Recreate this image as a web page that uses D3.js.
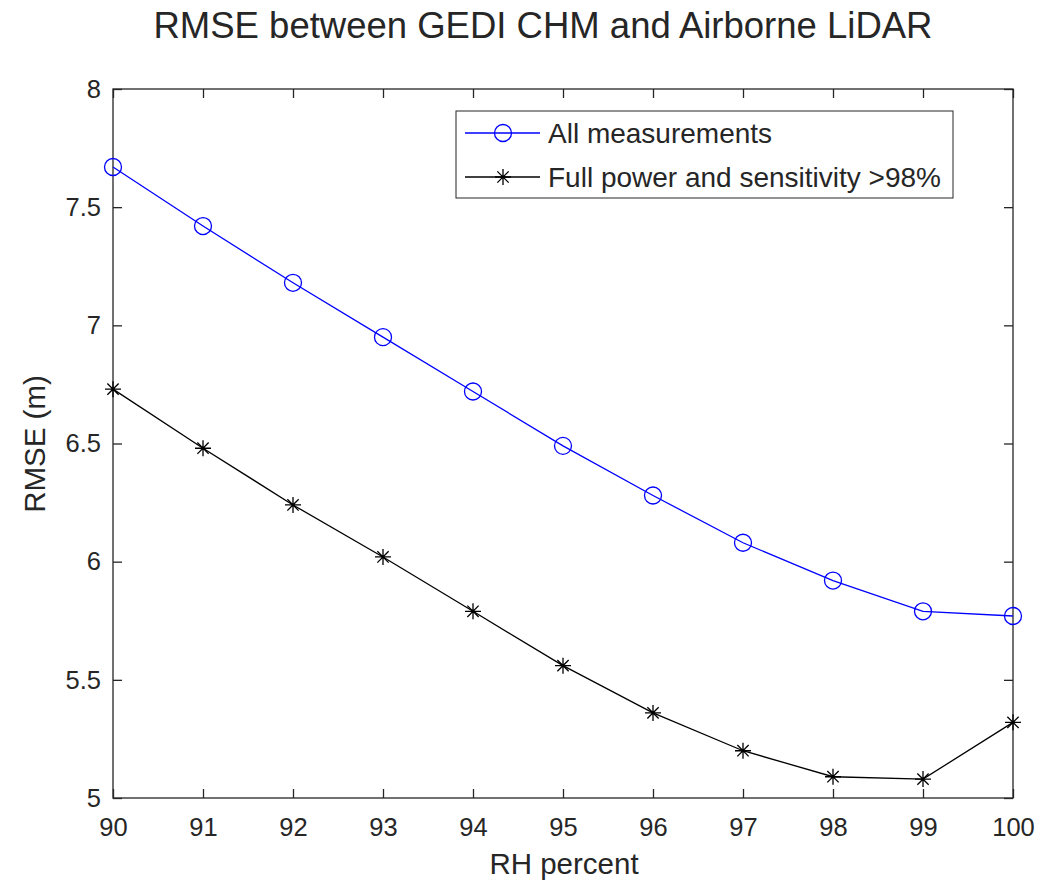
<!DOCTYPE html>
<html>
<head>
<meta charset="utf-8">
<script src="https://cdn.jsdelivr.net/npm/d3@7"></script>
<style>
  body { margin: 0; background: #fff; }
  text { font-family: "Liberation Sans", Arial, sans-serif; fill: #262626; }
</style>
</head>
<body>
<script>
var rhPercent = [90, 91, 92, 93, 94, 95, 96, 97, 98, 99, 100];
var allMeasurements = [7.67, 7.42, 7.18, 6.95, 6.72, 6.49, 6.28, 6.08, 5.92, 5.79, 5.77];
var fullPower = [6.73, 6.48, 6.24, 6.02, 5.79, 5.56, 5.36, 5.20, 5.09, 5.08, 5.32];
var xTicks = [90, 91, 92, 93, 94, 95, 96, 97, 98, 99, 100];
var yTicks = [5, 5.5, 6, 6.5, 7, 7.5, 8];
var seriesNames = ["All measurements", "Full power and sensitivity >98%"];

var width = 1058, height = 883;
var pLeft = 113, pRight = 1013, pTop = 89, pBottom = 798;

var svg = d3.select("body").append("svg")
    .attr("width", width)
    .attr("height", height);

var x = d3.scaleLinear().domain([90, 100]).range([pLeft, pRight]);
var y = d3.scaleLinear().domain([5, 8]).range([pBottom, pTop]);

// axes box
svg.append("rect")
    .attr("x", pLeft).attr("y", pTop)
    .attr("width", pRight - pLeft).attr("height", pBottom - pTop)
    .attr("fill", "none")
    .attr("stroke", "#262626")
    .attr("stroke-width", 1.3);

var tickLen = 9;
// bottom + top ticks
svg.append("g")
    .attr("transform", "translate(0," + pBottom + ")")
    .call(d3.axisBottom(x).tickValues(xTicks).tickSize(-tickLen).tickPadding(20).tickFormat(d3.format("d")))
    .call(function(g) { g.select(".domain").remove(); });
svg.append("g")
    .attr("transform", "translate(0," + pTop + ")")
    .call(d3.axisTop(x).tickValues(xTicks).tickSize(-tickLen).tickFormat(""))
    .call(function(g) { g.select(".domain").remove(); });
// left + right ticks
svg.append("g")
    .attr("transform", "translate(" + pLeft + ",0)")
    .call(d3.axisLeft(y).tickValues(yTicks).tickSize(-tickLen).tickPadding(12).tickFormat(d3.format("")))
    .call(function(g) { g.select(".domain").remove(); });
svg.append("g")
    .attr("transform", "translate(" + pRight + ",0)")
    .call(d3.axisRight(y).tickValues(yTicks).tickSize(-tickLen).tickFormat(""))
    .call(function(g) { g.select(".domain").remove(); });

svg.selectAll(".tick line").attr("stroke", "#262626").attr("stroke-width", 1.3);
svg.selectAll(".tick text").attr("font-size", 25.5).attr("fill", "#262626")
    .style("font-family", "'Liberation Sans', Arial, sans-serif");

// lines
var line = d3.line()
    .x(function(d, i) { return x(rhPercent[i]); })
    .y(function(d) { return y(d); });

svg.append("path").datum(allMeasurements)
    .attr("d", line).attr("fill", "none")
    .attr("stroke", "#0000ff").attr("stroke-width", 1.3);
svg.append("path").datum(fullPower)
    .attr("d", line).attr("fill", "none")
    .attr("stroke", "#000").attr("stroke-width", 1.3);

function asterisk(g, cx, cy, r) {
    var a = r * Math.cos(Math.PI / 4);
    var p = "M" + (cx - r) + "," + cy + "H" + (cx + r) +
        "M" + cx + "," + (cy - r) + "V" + (cy + r) +
        "M" + (cx - a) + "," + (cy - a) + "L" + (cx + a) + "," + (cy + a) +
        "M" + (cx - a) + "," + (cy + a) + "L" + (cx + a) + "," + (cy - a);
    g.append("path").attr("d", p).attr("stroke", "#000").attr("stroke-width", 1.3).attr("fill", "none");
}

svg.selectAll("circle.m").data(allMeasurements).enter().append("circle")
    .attr("class", "m")
    .attr("cx", function(d, i) { return x(rhPercent[i]); })
    .attr("cy", function(d) { return y(d); })
    .attr("r", 8.5)
    .attr("fill", "none")
    .attr("stroke", "#0000ff").attr("stroke-width", 1.3);

var stars = svg.append("g");
fullPower.forEach(function(d, i) { asterisk(stars, x(rhPercent[i]), y(d), 8); });

// legend
var lg = svg.append("g");
lg.append("rect").attr("x", 456).attr("y", 111).attr("width", 497).attr("height", 87)
    .attr("fill", "#fff").attr("stroke", "#262626").attr("stroke-width", 1);
var rows = [133, 177];
lg.append("line").attr("x1", 465).attr("x2", 540).attr("y1", rows[0]).attr("y2", rows[0])
    .attr("stroke", "#0000ff").attr("stroke-width", 1.3);
lg.append("circle").attr("cx", 503).attr("cy", rows[0]).attr("r", 8.5)
    .attr("fill", "none").attr("stroke", "#0000ff").attr("stroke-width", 1.3);
lg.append("line").attr("x1", 465).attr("x2", 540).attr("y1", rows[1]).attr("y2", rows[1])
    .attr("stroke", "#000").attr("stroke-width", 1.3);
asterisk(lg, 503, rows[1], 8);
seriesNames.forEach(function(n, i) {
    lg.append("text").attr("x", 548).attr("y", rows[i]).attr("dy", "0.35em")
        .attr("font-size", 28).attr("fill", "#000").text(n);
});

// title and labels
svg.append("text").attr("x", 543).attr("y", 38).attr("text-anchor", "middle")
    .attr("font-size", 36.5).attr("fill", "#000").text("RMSE between GEDI CHM and Airborne LiDAR");
svg.append("text").attr("x", 564).attr("y", 874).attr("text-anchor", "middle")
    .attr("font-size", 29.5).text("RH percent");
svg.append("text").attr("transform", "translate(45,444) rotate(-90)").attr("text-anchor", "middle")
    .attr("font-size", 29.5).text("RMSE (m)");
</script>
</body>
</html>
